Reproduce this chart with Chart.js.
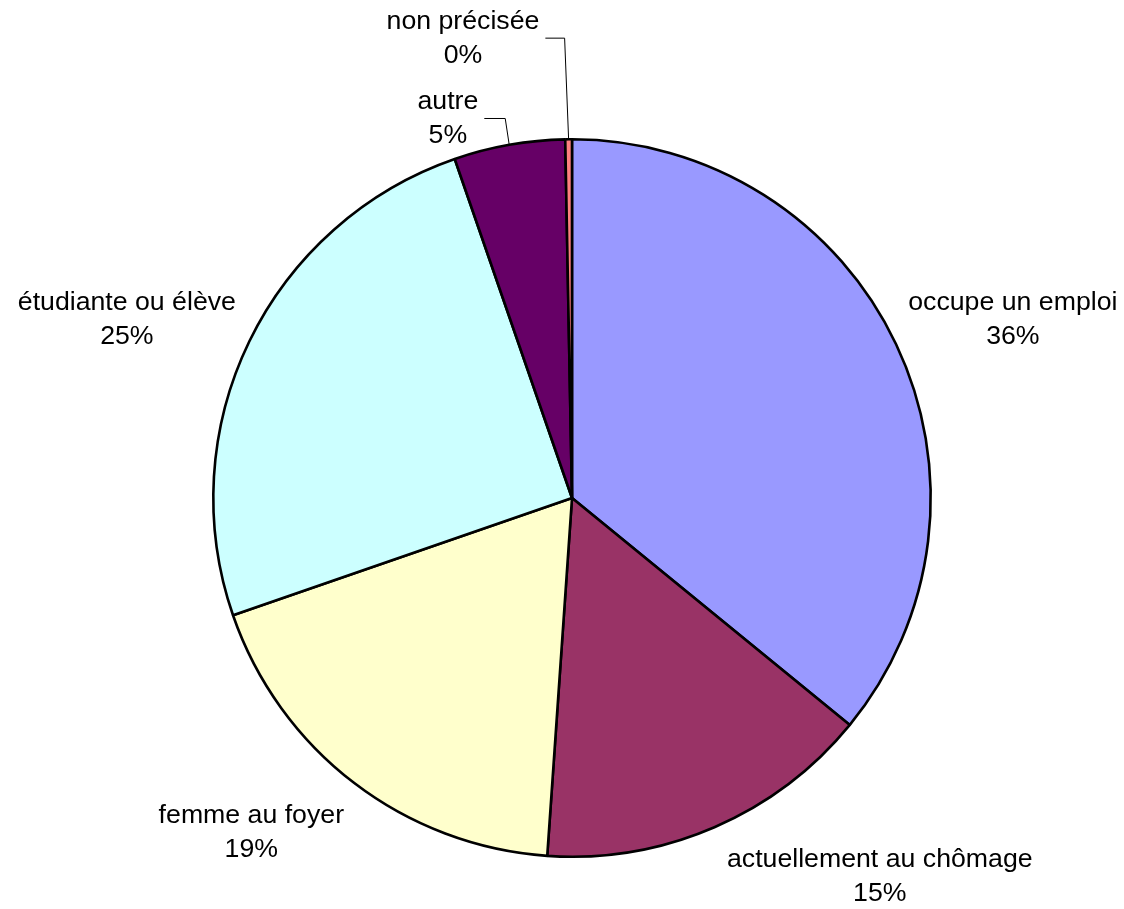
<!DOCTYPE html>
<html lang="fr">
<head>
<meta charset="utf-8">
<title>Situation</title>
<script src="https://cdn.jsdelivr.net/npm/chart.js@4.4.1/dist/chart.umd.min.js"></script>
<style>
    html, body { margin: 0; padding: 0; background: #ffffff; }
    canvas { display: block; }
</style>
</head>
<body>
<canvas id="pie" width="1124" height="909"></canvas>
<script>
// Data (percent of respondents)
const categories = ['occupe un emploi', 'actuellement au chômage', 'femme au foyer', 'étudiante ou élève', 'autre', 'non précisée'];
const shares = [35.9, 15.2, 18.6, 25.0, 5.0, 0.3];
const sliceColors = ['#9999FF', '#993366', '#FFFFCC', '#CCFFFF', '#660066', '#FF8080'];

// Label block centres, in units of the pie radius from its centre
const labelSpots = [
    [1.229, -0.496],
    [0.858, 1.055],
    [-0.894, 0.932],
    [-1.241, -0.496],
    [-0.346, -1.058],
    [-0.304, -1.282]
];
// Slices whose label is linked to the pie by a leader line
const leaderFor = [4, 5];

const pieLabels = {
    id: 'pieLabels',
    afterDatasetsDraw(chart) {
        const ctx = chart.ctx;
        const arcs = chart.getDatasetMeta(0).data;
        const fontSize = 26.7;
        const lineGap = 34;
        ctx.save();
        ctx.font = fontSize + 'px "Liberation Sans", Arial, sans-serif';
        ctx.fillStyle = '#000000';
        ctx.textAlign = 'center';
        ctx.textBaseline = 'middle';

        arcs.forEach((arc, i) => {
            const { x, y, outerRadius, startAngle, endAngle } = arc.getProps(['x', 'y', 'outerRadius', 'startAngle', 'endAngle'], true);
            const lx = x + labelSpots[i][0] * outerRadius;
            const ly = y + labelSpots[i][1] * outerRadius;
            const pct = Math.round(shares[i]) + '%';

            ctx.fillText(categories[i], lx, ly - lineGap / 2);
            ctx.fillText(pct, lx, ly + lineGap / 2);

            if (leaderFor.includes(i)) {
                const mid = (startAngle + endAngle) / 2;
                const ex = x + Math.cos(mid) * outerRadius;
                const ey = y + Math.sin(mid) * outerRadius;
                const textW = Math.max(ctx.measureText(categories[i]).width, ctx.measureText(pct).width);
                const sx = lx + textW / 2 + 6;
                ctx.beginPath();
                ctx.strokeStyle = '#000000';
                ctx.lineWidth = 1;
                ctx.moveTo(sx, ly);
                ctx.lineTo(ex - 4, ly);
                ctx.lineTo(ex, ey);
                ctx.stroke();
            }
        });
        ctx.restore();
    }
};

document.addEventListener('DOMContentLoaded', () => {
    new Chart(document.getElementById('pie'), {
        type: 'pie',
        data: {
            labels: categories,
            datasets: [{
                data: shares,
                backgroundColor: sliceColors,
                borderColor: '#000000',
                borderWidth: 2.6
            }]
        },
        options: {
            responsive: false,
            animation: false,
            layout: {
                padding: { left: 212, right: 192, top: 138, bottom: 51 }
            },
            plugins: {
                legend: { display: false },
                tooltip: { enabled: false }
            }
        },
        plugins: [pieLabels]
    });
});
</script>
</body>
</html>
